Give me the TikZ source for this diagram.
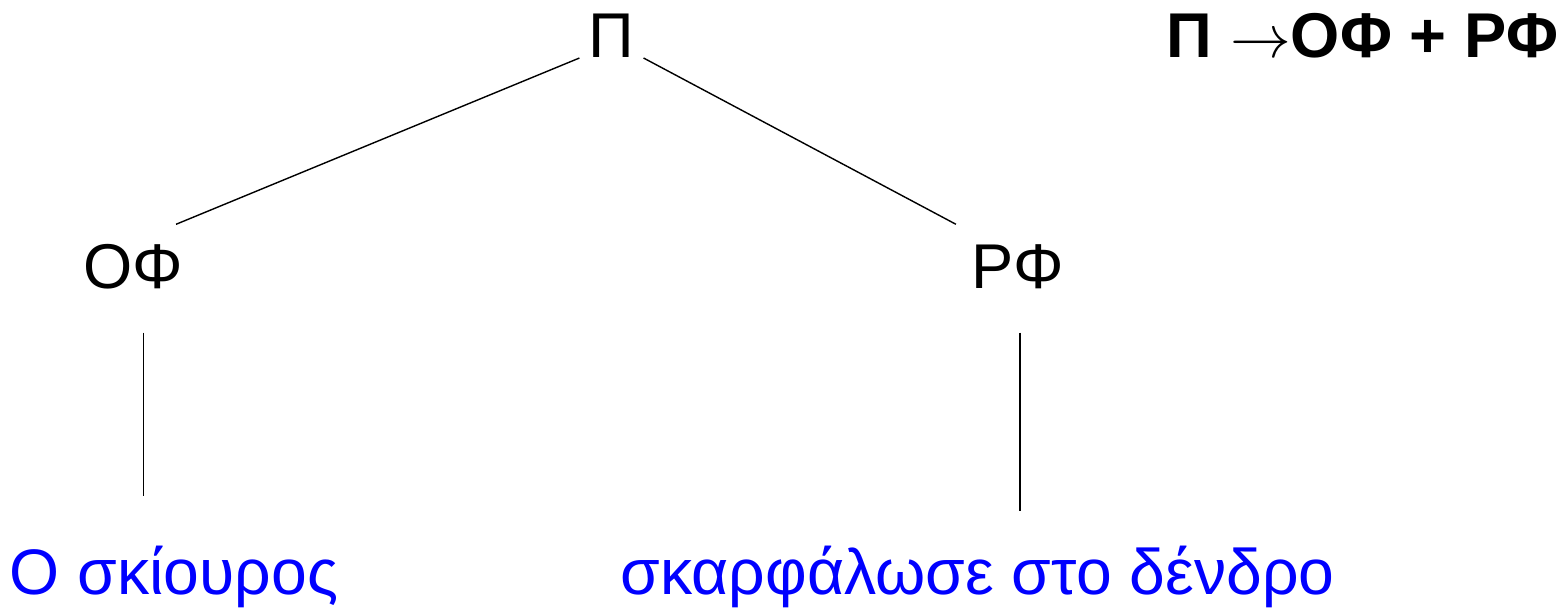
\documentclass[tikz,border=0pt]{standalone}
\usepackage{fontspec}
\setmainfont{Liberation Sans}
\usepackage{xcolor}
\definecolor{word}{RGB}{0, 0, 255}
\usetikzlibrary{calc,positioning}

\tikzset{
  cat/.style={anchor=base, inner sep=0pt, text height=0.63cm, text depth=0.44cm,
    font=\fontsize{18}{21}\selectfont},
  leaf/.style={anchor=base, inner sep=0pt, text height=0.98cm, text depth=0.14cm,
    font=\fontsize{18.3}{21}\selectfont, text=word}
}

\begin{document}
\begin{tikzpicture}
                \useasboundingbox (0,0) rectangle (15.63,-6.09);

                % Categories
                \node[cat] (pi) at (6.11,-0.58) {Π};
                \node[cat] (of) at (1.335,-2.88) {ΟΦ};
                \node[cat] (rf) at (10.18,-2.88) {ΡΦ};

                % Words
                \node[leaf] (subj) at (1.74,-5.95) {Ο σκίουρος};
                \node[leaf, text height=0.83cm] (pred) at (9.775,-5.95) {σκαρφάλωσε στο δένδρο};

                % Rule
                \node[anchor=base, inner sep=0pt, font=\fontsize{18}{21}\selectfont\bfseries]
                    (rule) at (13.625,-0.58) {Π $\rightarrow$ΟΦ + ΡΦ};

                % Branches
                \draw ([xshift=-0.08cm]pi.base west) -- ([xshift=-0.08cm]of.north east);
                \draw ([xshift=0.09cm]pi.base east) -- ([xshift=-0.15cm]rf.north west);

                \path ([xshift=0.1cm]of.south) coordinate (ofbot);
                \path ([xshift=0.02cm]rf.south) coordinate (rfbot);
                \draw (ofbot) -- (ofbot |- subj.north);
                \draw (rfbot) -- (rfbot |- pred.north);
            \end{tikzpicture}
\end{document}
